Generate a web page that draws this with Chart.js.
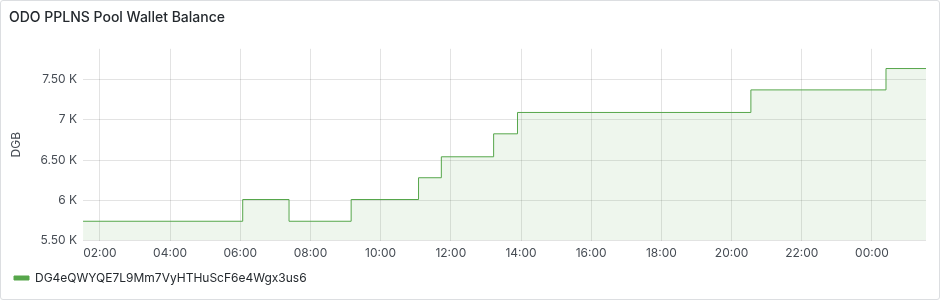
<!DOCTYPE html>
<html>
<head>
<meta charset="utf-8">
<script src="https://cdn.jsdelivr.net/npm/chart.js@4"></script>
<style>
  html, body { margin: 0; padding: 0; background: #fff; }
  #panel {
    position: absolute; left: 0; top: 0;
    width: 938px; height: 298px;
    border: 1px solid #dcdee1; border-radius: 3px;
  }
  #panel canvas { display: block; }
</style>
</head>
<body>
<div id="panel"><canvas id="balance"></canvas></div>
<script>
// hours since 00:00 of the first day (next day's 00:00 = 24)
var stepHours = [1.52, 6.07, 7.39, 9.16, 11.08, 11.73, 13.22, 13.90, 20.55, 24.40, 25.54];
var stepValues = [5740, 6010, 5740, 6010, 6280, 6540, 6825, 7090, 7370, 7635, 7635];
var tickHours = [2, 4, 6, 8, 10, 12, 14, 16, 18, 20, 22, 24];
var seriesName = 'DG4eQWYQE7L9Mm7VyHTHuScF6e4Wgx3us6';

var green = '#56a64b';
var textColor = '#464c54';

function pad(n) { return (n < 10 ? '0' : '') + n; }

function kFormat(v) {
    var k = v / 1000;
    return (Number.isInteger(k) ? k : k.toFixed(2)) + ' K';
}

var points = stepHours.map(function (h, i) { return { x: h, y: stepValues[i] }; });

Chart.defaults.font.family = 'Inter, "Noto Sans", sans-serif';
Chart.defaults.color = textColor;

var chart = new Chart(document.getElementById('balance'), {
    type: 'line',
    data: {
        datasets: [{
            label: seriesName,
            data: points,
            stepped: 'before',
            borderColor: green,
            borderWidth: 1,
            backgroundColor: 'rgba(86,166,75,0.1)',
            fill: 'start',
            pointRadius: 0
        }]
    },
    options: {
        responsive: true,
        maintainAspectRatio: false,
        animation: false,
        layout: { padding: { left: 8, right: 13, top: 0, bottom: 5 } },
        plugins: {
            title: {
                display: true,
                text: 'ODO PPLNS Pool Wallet Balance',
                align: 'start',
                color: '#24292e',
                font: { size: 14, weight: '500' },
                padding: { top: 8, bottom: 23 }
            },
            legend: {
                position: 'bottom',
                align: 'start',
                labels: {
                    boxWidth: 15,
                    boxHeight: 4,
                    padding: 5,
                    color: '#24292e',
                    font: { size: 12 },
                    generateLabels: function (c) {
                        var items = Chart.defaults.plugins.legend.labels.generateLabels(c);
                        items.forEach(function (it) { it.fillStyle = green; it.strokeStyle = green; });
                        return items;
                    }
                }
            },
            tooltip: { enabled: false }
        },
        scales: {
            x: {
                type: 'linear',
                min: 1.52,
                max: 25.54,
                afterBuildTicks: function (axis) {
                    axis.ticks = tickHours.map(function (v) { return { value: v }; });
                },
                ticks: {
                    maxRotation: 0,
                    autoSkip: false,
                    font: { size: 12 },
                    padding: 6,
                    callback: function (v) { return pad(v % 24) + ':00'; }
                },
                grid: { color: 'rgba(0,0,0,0.11)', drawTicks: false },
                border: { display: false }
            },
            y: {
                min: 5500,
                max: 7880,
                afterBuildTicks: function (axis) {
                    axis.ticks = [5500, 6000, 6500, 7000, 7500].map(function (v) { return { value: v }; });
                },
                ticks: {
                    font: { size: 12 },
                    padding: 6,
                    callback: function (v) { return kFormat(v); }
                },
                title: {
                    display: true,
                    text: 'DGB',
                    font: { size: 12 },
                    padding: { top: 0, bottom: 11 }
                },
                grid: { color: 'rgba(0,0,0,0.11)', drawTicks: false },
                border: { display: false }
            }
        }
    }
});
</script>
</body>
</html>
